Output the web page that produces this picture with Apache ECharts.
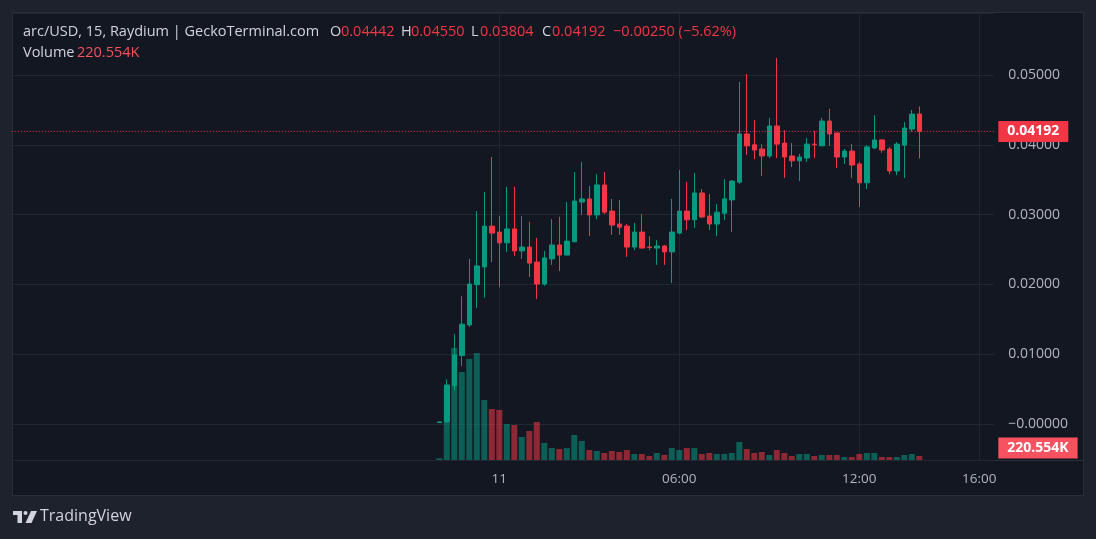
<!DOCTYPE html>
<html><head><meta charset="utf-8">
<script src="https://cdn.jsdelivr.net/npm/echarts@6/dist/echarts.min.js"></script>
<style>
html,body{margin:0;padding:0;background:#1e222d;overflow:hidden;}
#panel{position:absolute;left:12px;top:12px;width:1070px;height:482px;background:#131722;border:1px solid #2a2e39;}
#sep{position:absolute;left:13px;top:460px;width:1070px;height:1px;background:#2a2e39;}
#c{position:absolute;left:0;top:0;width:1096px;height:539px;}
</style>
</head><body><div id="panel"></div><div id="sep"></div><div id="c"></div>
<script>
// ---- data (15-minute candles, arc/USD) ----
const times = ['10 22:00','10 22:15','10 22:30','10 22:45','10 23:00','10 23:15','10 23:30','10 23:45',
'11 00:00','11 00:15','11 00:30','11 00:45','11 01:00','11 01:15','11 01:30','11 01:45',
'11 02:00','11 02:15','11 02:30','11 02:45','11 03:00','11 03:15','11 03:30','11 03:45',
'11 04:00','11 04:15','11 04:30','11 04:45','11 05:00','11 05:15','11 05:30','11 05:45',
'11 06:00','11 06:15','11 06:30','11 06:45','11 07:00','11 07:15','11 07:30','11 07:45',
'11 08:00','11 08:15','11 08:30','11 08:45','11 09:00','11 09:15','11 09:30','11 09:45',
'11 10:00','11 10:15','11 10:30','11 10:45','11 11:00','11 11:15','11 11:30','11 11:45',
'11 12:00','11 12:15','11 12:30','11 12:45','11 13:00','11 13:15','11 13:30','11 13:45','11 14:00'];
const open = [0.00020,0.00030,0.00550,0.00980,0.01420,0.01995,0.02250,0.02835,0.02750,0.02595,
0.02795,0.02480,0.02535,0.02320,0.02005,0.02365,0.02565,0.02420,0.02610,0.03180,
0.03225,0.02995,0.03425,0.03050,0.02865,0.02835,0.02535,0.02750,0.02535,0.02520,
0.02550,0.02465,0.02735,0.03050,0.02925,0.03310,0.02980,0.02865,0.03020,0.03210,
0.03465,0.04155,0.04000,0.03940,0.03840,0.04270,0.04025,0.03840,0.03770,0.03810,
0.04010,0.03985,0.04340,0.04170,0.03825,0.03910,0.03725,0.03455,0.03955,0.04070,
0.03940,0.03625,0.03995,0.04225,0.04442];
const close = [0.00030,0.00560,0.00990,0.01430,0.02005,0.02265,0.02835,0.02735,0.02595,0.02795,
0.02480,0.02535,0.02305,0.02005,0.02380,0.02565,0.02420,0.02620,0.03195,0.03225,
0.02995,0.03425,0.03035,0.02850,0.02820,0.02535,0.02750,0.02520,0.02530,0.02550,
0.02465,0.02750,0.03050,0.02925,0.03310,0.02965,0.02865,0.03035,0.03225,0.03480,
0.04155,0.03985,0.03925,0.03840,0.04270,0.04010,0.03825,0.03770,0.03825,0.04010,
0.04000,0.04340,0.04155,0.03825,0.03910,0.03710,0.03455,0.03970,0.04070,0.03925,
0.03625,0.04010,0.04240,0.04440,0.04192];
const low = [0.00015,0.00020,0.00490,0.00830,0.01390,0.01660,0.01810,0.02320,0.01960,0.02465,
0.02410,0.02365,0.02105,0.01790,0.01980,0.02280,0.02190,0.02420,0.02610,0.02995,
0.02695,0.02935,0.03010,0.02710,0.02710,0.02395,0.02490,0.02520,0.02490,0.02280,
0.02280,0.02020,0.02720,0.02780,0.02810,0.02950,0.02780,0.02690,0.02920,0.02750,
0.03440,0.03855,0.03795,0.03555,0.03810,0.03810,0.03525,0.03680,0.03480,0.03755,
0.03810,0.03985,0.03985,0.03670,0.03725,0.03525,0.03110,0.03365,0.03940,0.03885,
0.03580,0.03565,0.03525,0.04185,0.03804];
const high = [0.00035,0.00640,0.01290,0.01830,0.02365,0.03050,0.03325,0.03825,0.02980,0.03400,
0.03400,0.02980,0.02895,0.02665,0.02480,0.02935,0.02970,0.03180,0.03610,0.03755,
0.03410,0.03580,0.03610,0.03225,0.03210,0.02865,0.02880,0.03010,0.02690,0.02635,
0.02565,0.03225,0.03640,0.03470,0.03595,0.03365,0.03295,0.03150,0.03510,0.03495,
0.04900,0.05015,0.04355,0.04010,0.04385,0.05245,0.04210,0.04025,0.03870,0.04095,
0.04200,0.04385,0.04515,0.04170,0.03940,0.04010,0.03755,0.03995,0.04425,0.04070,
0.03970,0.04040,0.04325,0.04500,0.04550];
// volume in thousands (K)
const volume = [95,4040,6180,4850,5570,5900,3310,2810,2760,1985,
1930,1270,1600,2095,940,660,610,660,1380,1050,
550,495,385,495,440,550,330,330,220,385,
275,660,550,660,660,330,385,330,330,385,
995,605,385,440,275,550,385,220,330,330,
220,275,275,275,165,165,330,385,385,165,
165,165,275,330,220.554];
const timeTicks = {'11 00:00':'11','11 06:00':'06:00','11 12:00':'12:00','11 16:00':'16:00'};

// axis categories: 15-min slots from 10 07:45 to 11 16:30
const cats = [];
for (let m = 7*60+45; m <= 24*60+16*60+30; m += 15) {
  const d = m >= 1440 ? 11 : 10, mm = m % 1440;
  cats.push(d + ' ' + String(Math.floor(mm/60)).padStart(2,'0') + ':' + String(mm%60).padStart(2,'0'));
}

const UP = '#089981', DOWN = '#f23645';
const FONT = '"Open Sans", sans-serif';
const n = times.length;
const lastClose = close[n-1], lastOpen = open[n-1], lastVol = volume[n-1];
const candleData = times.map((t,i) => [t, open[i], close[i], low[i], high[i]]);
const volData = times.map((t,i) => ({value:[t, volume[i]], itemStyle:{color: close[i] >= open[i] ? 'rgba(8,153,129,0.55)' : 'rgba(242,54,69,0.55)'}}));
const isTick = (idx, val) => Object.prototype.hasOwnProperty.call(timeTicks, val);
const firstCat = cats[0], lastCat = cats[cats.length-1];

const chart = echarts.init(document.getElementById('c'), null, {renderer:'canvas'});
const gridBox = {left: 11.8, right: 101.7, top: 13, bottom: 79};
const chg = lastClose - lastOpen;
const pct = Math.floor(Math.abs(chg/lastOpen*100)*100)/100;
const fmt5 = v => (v < 0 ? '\u2212' : '') + Math.abs(v).toFixed(5);
const HF = '14.5px ' + FONT;
const T1 = 24.5, T2 = 45.5;

chart.setOption({
  backgroundColor: 'transparent',
  animation: false,
  textStyle: {fontFamily: FONT},
  grid: [Object.assign({}, gridBox), Object.assign({}, gridBox)],
  xAxis: [
    {type:'category', gridIndex:0, data:cats, boundaryGap:false,
     axisLine:{show:false}, axisTick:{show:false}, axisLabel:{show:false},
     splitLine:{show:true, interval:isTick, lineStyle:{color:'#22262f', width:1}}},
    {type:'category', gridIndex:1, data:cats, boundaryGap:false,
     axisLine:{show:false}, axisTick:{show:false}, splitLine:{show:false},
     axisLabel:{show:true, interval:isTick, formatter: v => timeTicks[v] || '',
       color:'#b2b5be', fontSize:13.5, margin:12, fontFamily:FONT}}
  ],
  yAxis: [
    {type:'value', gridIndex:0, position:'right',
     min: -0.005158, max: 0.058883, splitNumber:6,
     axisLine:{show:false}, axisTick:{show:false},
     axisLabel:{color:'#b2b5be', fontSize:14, margin:14, fontFamily:FONT,
       showMinLabel:false, showMaxLabel:false,
       formatter: v => Math.abs(v) < 1e-9 ? '\u22120.00000' : fmt5(v)},
     splitLine:{show:true, lineStyle:{color:'#22262f', width:1}}},
    {type:'value', gridIndex:1, min:0, max:24650, show:false, splitLine:{show:false}}
  ],
  series: [
    {type:'bar', xAxisIndex:1, yAxisIndex:1, data:volData, barWidth:6, z:2,
     encode:{x:0, y:1}},
    {type:'candlestick', xAxisIndex:0, yAxisIndex:0, data:candleData, barWidth:5, z:3,
     encode:{x:0, y:[1,2,3,4]},
     itemStyle:{color:UP, color0:DOWN, borderColor:UP, borderColor0:DOWN, borderWidth:1}},
    // last price line
    {type:'line', xAxisIndex:0, yAxisIndex:0, z:4, silent:true, symbol:'none',
     data:[[firstCat, lastClose],[lastCat, lastClose]],
     lineStyle:{color:DOWN, type:[1,2], width:1},
     endLabel:{show:true, distance:4, formatter: () => lastClose.toFixed(5),
       backgroundColor:DOWN, color:'#ffffff', padding:[4,9,3,9], fontSize:14,
       fontWeight:'bold', fontFamily:FONT}},
    // last volume label
    {type:'line', xAxisIndex:1, yAxisIndex:1, z:4, silent:true, symbol:'none',
     data:[[firstCat, lastVol],[lastCat, lastVol]],
     lineStyle:{opacity:0},
     endLabel:{show:true, distance:4, offset:[0,-8], formatter: () => lastVol.toFixed(3) + 'K',
       backgroundColor:'#f7525f', color:'#ffffff', padding:[4,9,3,9], fontSize:14,
       fontWeight:'bold', fontFamily:FONT}}
  ],
  graphic: [
    {type:'text', left:23, top:T1, z:100, style:{text:'arc/USD, 15, Raydium | GeckoTerminal.com', fill:'#d1d4dc', font:HF}},
    {type:'text', left:330, top:T1, z:100, style:{text:'O', fill:'#d1d4dc', font:HF}},
    {type:'text', left:341, top:T1, z:100, style:{text:open[n-1].toFixed(5), fill:DOWN, font:HF}},
    {type:'text', left:401, top:T1, z:100, style:{text:'H', fill:'#d1d4dc', font:HF}},
    {type:'text', left:411, top:T1, z:100, style:{text:high[n-1].toFixed(5), fill:DOWN, font:HF}},
    {type:'text', left:471, top:T1, z:100, style:{text:'L', fill:'#d1d4dc', font:HF}},
    {type:'text', left:480, top:T1, z:100, style:{text:low[n-1].toFixed(5), fill:DOWN, font:HF}},
    {type:'text', left:542, top:T1, z:100, style:{text:'C', fill:'#d1d4dc', font:HF}},
    {type:'text', left:552, top:T1, z:100, style:{text:close[n-1].toFixed(5), fill:DOWN, font:HF}},
    {type:'text', left:613, top:T1, z:100, style:{text: fmt5(chg) + ' (' + (chg<0?'\u2212':'') + pct.toFixed(2) + '%)', fill:DOWN, font:HF}},
    {type:'text', left:23, top:T2, z:100, style:{text:'Volume', fill:'#d1d4dc', font:HF}},
    {type:'text', left:77, top:T2, z:100, style:{text:lastVol.toFixed(3) + 'K', fill:'#f7525f', font:HF}},
    // TradingView logo
    {type:'rect', z:100, shape:{x:13, y:511, width:9, height:4}, style:{fill:'#d1d4dc'}},
    {type:'rect', z:100, shape:{x:17.5, y:511, width:4.5, height:12}, style:{fill:'#d1d4dc'}},
    {type:'circle', z:100, shape:{cx:25.5, cy:513, r:2}, style:{fill:'#d1d4dc'}},
    {type:'polygon', z:100, shape:{points:[[31,511],[37,511],[31.5,523],[25.5,523]]}, style:{fill:'#d1d4dc'}},
    {type:'text', left:40, top:508.5, z:100, style:{text:'TradingView', fill:'#d1d4dc', font:'16px ' + FONT}}
  ]
});
</script>
</body></html>
